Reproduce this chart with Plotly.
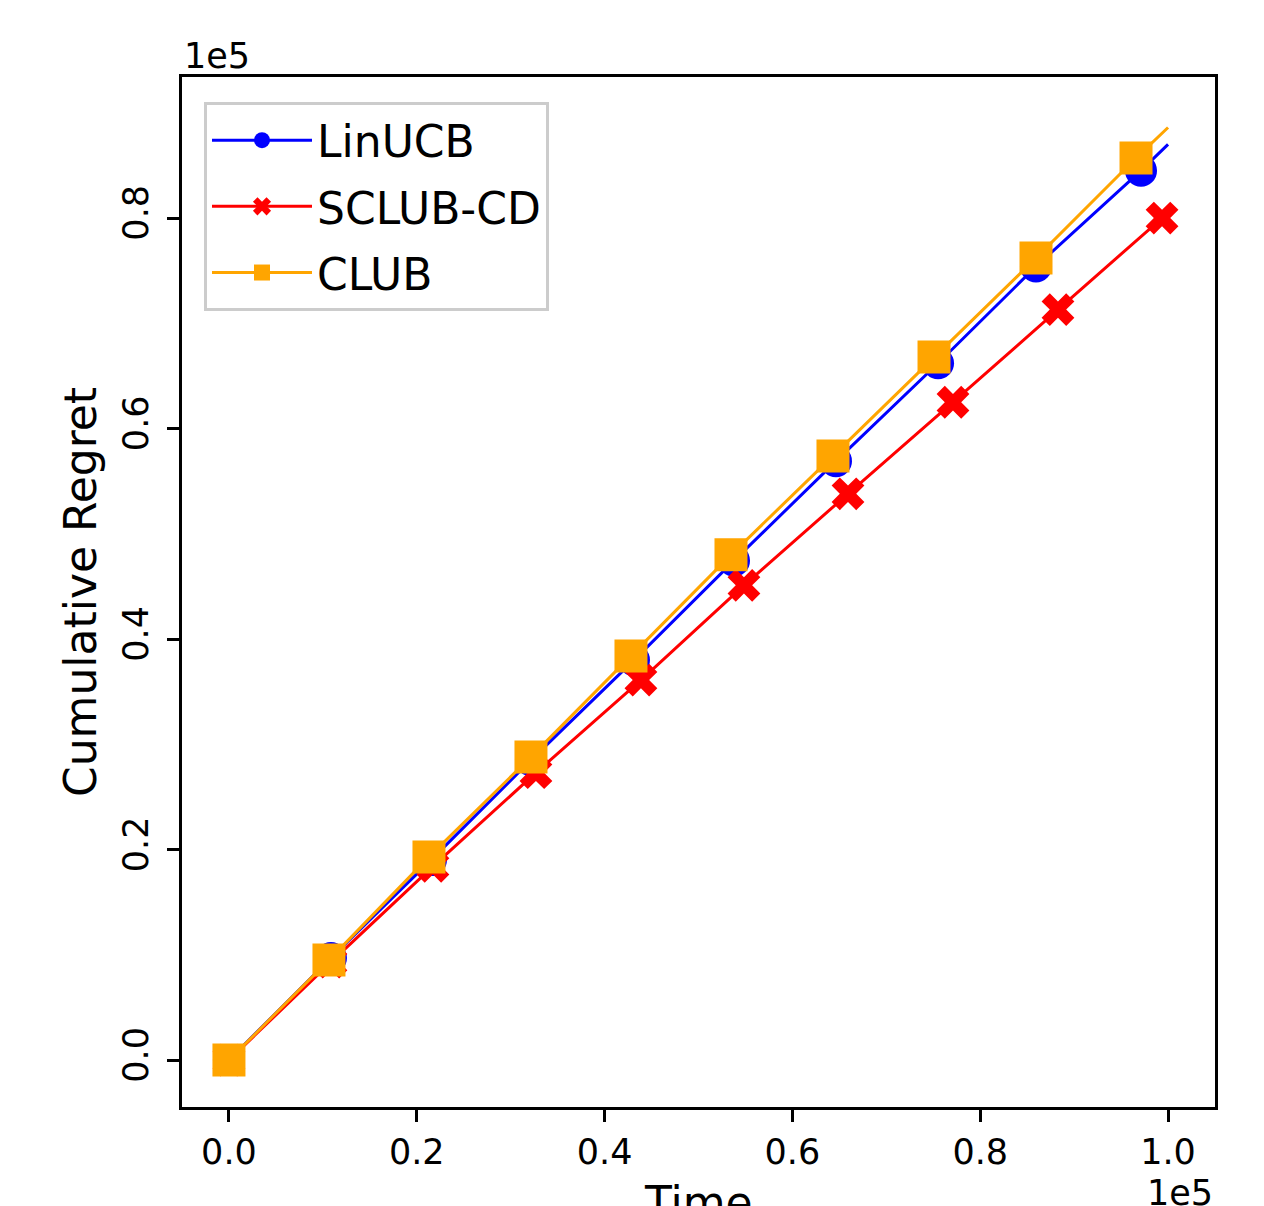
import plotly.graph_objects as go

# Values (units of 1e5)
linucb_time = [0.0, 0.1086, 0.2151, 0.3216, 0.4313, 0.5378, 0.6464, 0.7551, 0.8594, 0.9712, 1.0]
linucb_regret = [0.0, 0.097, 0.190, 0.285, 0.380, 0.4745, 0.569, 0.662, 0.754, 0.845, 0.870]

sclub_time = [0.0, 0.1086, 0.2172, 0.3269, 0.4387, 0.5484, 0.6592, 0.7710, 0.8828, 0.9936, 1.0]
sclub_regret = [0.0, 0.093, 0.184, 0.273, 0.361, 0.451, 0.538, 0.625, 0.713, 0.800, 0.805]

club_time = [0.0, 0.1065, 0.2130, 0.3216, 0.4281, 0.5346, 0.6432, 0.7508, 0.8594, 0.9659, 1.0]
club_regret = [0.0, 0.095, 0.193, 0.288, 0.384, 0.480, 0.574, 0.668, 0.762, 0.857, 0.886]

tick_vals = [0.0, 0.2, 0.4, 0.6, 0.8, 1.0]
tick_text = ["0.0", "0.2", "0.4", "0.6", "0.8", "1.0"]
ytick_vals = [0.0, 0.2, 0.4, 0.6, 0.8]
ytick_text = ["0.0", "0.2", "0.4", "0.6", "0.8"]

FONT = "DejaVu Sans"

def sizes(n, s):
    return [s] * (n - 1) + [0]

fig = go.Figure()
fig.add_trace(go.Scatter(
    x=linucb_time, y=linucb_regret, name="LinUCB", mode="lines+markers", legendgroup="a",
    line=dict(color="#0000ff", width=3),
    marker=dict(symbol="circle", size=sizes(len(linucb_time), 32), color="#0000ff",
                opacity=1, line=dict(width=0)),
))
fig.add_trace(go.Scatter(
    x=sclub_time, y=sclub_regret, name="SCLUB-CD", mode="lines+markers", legendgroup="b",
    line=dict(color="#ff0000", width=3),
    marker=dict(symbol="x", size=sizes(len(sclub_time), 29), color="#ff0000",
                opacity=1, line=dict(width=0)),
))
fig.add_trace(go.Scatter(
    x=club_time, y=club_regret, name="CLUB", mode="lines+markers", legendgroup="c",
    line=dict(color="#ffa500", width=3),
    marker=dict(symbol="square", size=sizes(len(club_time), 33), color="#ffa500",
                opacity=1, line=dict(width=0)),
))

axis_common = dict(
    showline=True, linecolor="black", linewidth=2.5, mirror=True,
    ticks="outside", ticklen=12, tickwidth=2.5, tickcolor="black",
    showgrid=False, zeroline=False, automargin=False,
    tickfont=dict(family=FONT, size=35, color="black"),
)

fig.update_layout(
    width=1264, height=1206,
    margin=dict(l=182, r=49, t=77, b=99),
    paper_bgcolor="white", plot_bgcolor="white",
    font=dict(family=FONT, color="black"),
    xaxis=dict(range=[-0.05, 1.05], tickvals=tick_vals, ticktext=tick_text,
               **axis_common),
    yaxis=dict(range=[-0.0446, 0.934], tickvals=ytick_vals, ticktext=ytick_text, tickangle=-90,
               ticklabelstandoff=5,
               title=dict(text="Cumulative Regret", font=dict(family=FONT, size=44), standoff=6),
               **axis_common),
    legend=dict(x=0.0213, y=0.9757, xanchor="left", yanchor="top",
                bgcolor="rgba(255,255,255,0.8)", bordercolor="#cccccc", borderwidth=3,
                font=dict(family=FONT, size=44, color="black"),
                itemwidth=100, tracegroupgap=6),
    showlegend=True,
)

# x-axis title (partly below the page edge, as in the reference)
fig.add_annotation(text="Time", xref="paper", yref="paper", x=0.5, y=0, xanchor="center", yanchor="top",
                   yshift=-68, showarrow=False, font=dict(family=FONT, size=44, color="black"))
fig.add_annotation(text="1e5", xref="paper", yref="paper", x=0, y=1, xanchor="left", yanchor="bottom",
                   yshift=-1, showarrow=False, font=dict(family=FONT, size=35, color="black"))
fig.add_annotation(text="1e5", xref="paper", yref="paper", x=1, y=0, xanchor="right", yanchor="top",
                   yshift=-64, showarrow=False, font=dict(family=FONT, size=35, color="black"))

fig.write_html("out.html")
